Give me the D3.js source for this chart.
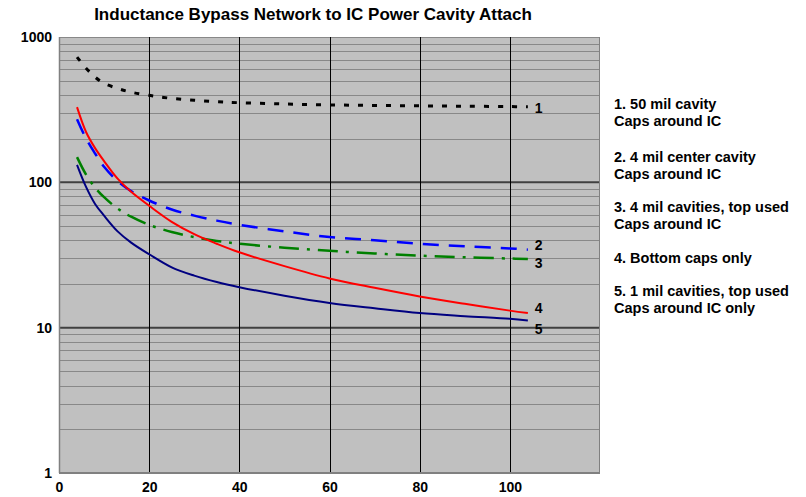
<!DOCTYPE html>
<html>
<head>
<meta charset="utf-8">
<script src="https://cdn.jsdelivr.net/npm/d3@7"></script>
<style>
  body { margin: 0; background: #fff; }
  text { font-family: "Liberation Sans", Arial, sans-serif; font-weight: bold; }
</style>
</head>
<body>
<div id="chart"></div>
<script>
// sample positions along the x axis
const xs = [4, 6, 8, 10, 13, 16, 20, 25, 30, 35, 40, 50, 60, 70, 80, 90, 100, 104];

// inductance values
const s1 = [728, 610, 530, 480, 443, 417, 397, 378, 367, 359, 353, 346, 341, 338, 336, 334, 332, 331];
const s2 = [272, 200, 158, 128, 102, 87, 75, 65, 59, 54.5, 51, 46, 42, 40, 37.8, 36.3, 35.1, 34.4];
const s3 = [149, 113, 92, 79, 66, 58, 51, 45.5, 42, 39.5, 37.8, 35.5, 33.8, 32.4, 31.3, 30.5, 29.9, 29.7];
const s4 = [329, 222, 172, 140, 106, 86, 69, 53.5, 44, 37.8, 33, 26.5, 21.8, 18.8, 16.4, 14.6, 13.1, 12.6];
const s5 = [132, 93, 71, 59, 46, 38.5, 32, 26, 22.8, 20.6, 19, 16.6, 14.8, 13.6, 12.6, 12, 11.5, 11.2];

const xTicks = [0, 20, 40, 60, 80, 100];
const yTicks = [1, 10, 100, 1000];

const legendLines = [
    ["1. 50 mil cavity", "Caps around IC"],
    ["2. 4 mil center cavity", "Caps around IC"],
    ["3. 4 mil cavities, top used", "Caps around IC"],
    ["4. Bottom caps only"],
    ["5. 1 mil cavities, top used", "Caps around IC only"]
];

const series = [
    { name: "1", values: s1, color: "#000", dash: "5,9", width: 3, dy: 1 },
    { name: "2", values: s2, color: "#0000ff", dash: "16,10", width: 2.5, dy: -5 },
    { name: "3", values: s3, color: "#008000", dash: "20,8,3,8", width: 2.5, dy: 4 },
    { name: "4", values: s4, color: "#ff0000", dash: null, width: 2, dy: -5 },
    { name: "5", values: s5, color: "#000080", dash: null, width: 2, dy: 9 }
];

const W = 806, H = 497;
const margin = { top: 37, right: 206, bottom: 24, left: 59 };
const width = W - margin.left - margin.right;
const height = H - margin.top - margin.bottom;

const svg = d3.select("#chart")
    .append("svg")
    .attr("width", W)
    .attr("height", H);

const g = svg.append("g")
    .attr("transform", `translate(${margin.left},${margin.top})`);

const x = d3.scaleLinear().domain([0, 120]).range([0, width]);
const y = d3.scaleLog().domain([1, 1000]).range([height, 0]);

// plot background
g.append("rect")
    .attr("width", width)
    .attr("height", height)
    .attr("fill", "#c0c0c0");

// minor horizontal gridlines
const minor = [];
[1, 10, 100].forEach(d => { for (let k = 2; k <= 9; k++) minor.push(d * k); });
g.selectAll(".minor")
    .data(minor)
    .join("line")
    .attr("x1", 0).attr("x2", width)
    .attr("y1", d => Math.round(y(d)) + 0.5)
    .attr("y2", d => Math.round(y(d)) + 0.5)
    .attr("stroke", "#888")
    .attr("stroke-width", 1);

// decade lines
g.selectAll(".major")
    .data([10, 100])
    .join("line")
    .attr("x1", 0).attr("x2", width)
    .attr("y1", d => y(d))
    .attr("y2", d => y(d))
    .attr("stroke", "#404040")
    .attr("stroke-width", 2);

g.append("line")
    .attr("x1", 0).attr("x2", width)
    .attr("y1", 0.5).attr("y2", 0.5)
    .attr("stroke", "#888");

// vertical gridlines
g.selectAll(".vgrid")
    .data(xTicks.slice(1))
    .join("line")
    .attr("x1", d => Math.round(x(d)) + 0.5)
    .attr("x2", d => Math.round(x(d)) + 0.5)
    .attr("y1", 0).attr("y2", height)
    .attr("stroke", "#000")
    .attr("stroke-width", 1);

// frame
g.append("line").attr("x1", 0.5).attr("x2", 0.5).attr("y1", 0).attr("y2", height)
    .attr("stroke", "#808080").attr("stroke-width", 1.5);
g.append("line").attr("x1", width - 0.5).attr("x2", width - 0.5).attr("y1", 0).attr("y2", height)
    .attr("stroke", "#808080").attr("stroke-width", 1);
g.append("line").attr("x1", 0).attr("x2", width).attr("y1", height).attr("y2", height)
    .attr("stroke", "#808080").attr("stroke-width", 2);

// axes
g.append("g")
    .attr("transform", `translate(0,${height})`)
    .call(d3.axisBottom(x).tickValues(xTicks).tickSize(0).tickPadding(9))
    .call(a => a.select(".domain").remove())
    .selectAll("text")
    .style("font-size", "14px")
    .attr("fill", "#000");

g.append("g")
    .call(d3.axisLeft(y).tickValues(yTicks).tickFormat(d3.format("d")).tickSize(0).tickPadding(7))
    .call(a => a.select(".domain").remove())
    .selectAll("text")
    .style("font-size", "14px")
    .attr("fill", "#000");

// curves
const line = d3.line()
    .x((d, i) => x(xs[i]))
    .y(d => y(d))
    .curve(d3.curveCatmullRom.alpha(0.5));

series.forEach(s => {
    g.append("path")
        .datum(s.values)
        .attr("fill", "none")
        .attr("stroke", s.color)
        .attr("stroke-width", s.width)
        .attr("stroke-dasharray", s.dash)
        .attr("d", line);

    g.append("text")
        .attr("x", x(xs[xs.length - 1]) + 7)
        .attr("y", y(s.values[s.values.length - 1]) + s.dy)
        .attr("dy", "0.35em")
        .style("font-size", "14px")
        .text(s.name);
});

// legend text on the right
const legendTop = [104, 157, 207, 258, 291];
legendLines.forEach((lines, i) => {
    lines.forEach((t, j) => {
        svg.append("text")
            .attr("x", 614)
            .attr("y", legendTop[i] + j * 17)
            .attr("dy", "0.35em")
            .style("font-size", "14.5px")
            .text(t);
    });
});

// title
svg.append("text")
    .attr("x", 313)
    .attr("y", 14)
    .attr("dy", "0.35em")
    .attr("text-anchor", "middle")
    .style("font-size", "17px")
    .text("Inductance Bypass Network to IC Power Cavity Attach");
</script>
</body>
</html>
